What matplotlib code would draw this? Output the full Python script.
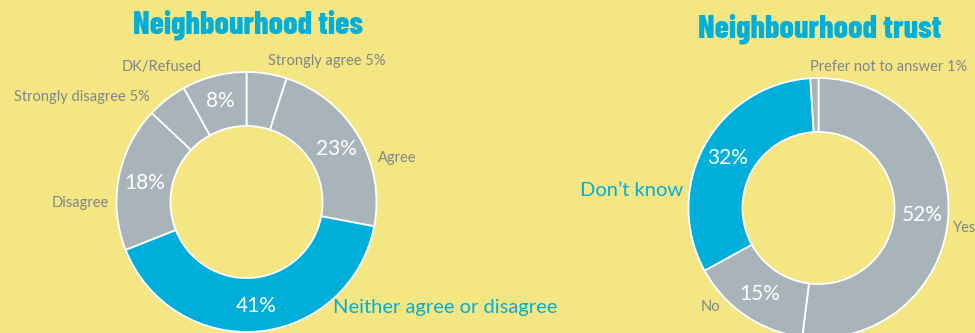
import matplotlib
matplotlib.use("Agg")
import matplotlib.pyplot as plt

# ---- data ----
ties_labels = ["Strongly agree", "Agree", "Neither agree or disagree", "Disagree",
               "Strongly disagree", "DK/Refused"]
ties_values = [5, 23, 41, 18, 5, 8]
trust_labels = ["Yes", "No", "Don\u2019t know", "Prefer not to answer"]
trust_values = [52, 15, 32, 1]

BG = "#F4E683"
GRAY = "#A9B3BA"
BLUE = "#00AFD9"
TXT = "#80858A"
FONT = ["Lato", "DejaVu Sans"]
TFONT = ["Barlow Condensed", "Roboto Condensed", "DejaVu Sans"]

ties_colors = [GRAY, GRAY, BLUE, GRAY, GRAY, GRAY]
trust_colors = [GRAY, GRAY, BLUE, GRAY]

fig = plt.figure(figsize=(9.75, 3.33), dpi=100, facecolor=BG)
ax = fig.add_axes([0, 0, 1, 1])
ax.set_facecolor(BG)

H = 333

def donut(values, colors, cx, cy, r):
    wedges, texts, autotexts = ax.pie(
        values, colors=colors, startangle=90, counterclock=False,
        center=(cx, H - cy), radius=r, frame=True,
        wedgeprops=dict(width=r * 0.415, edgecolor="white", linewidth=1.3),
        autopct=lambda p: f"{p:.0f}%" if p > 6 else "", pctdistance=0.8,
        textprops=dict(color="white", fontsize=15, family=FONT))
    return wedges

donut(ties_values, ties_colors, 246.5, 202, 130)
donut(trust_values, trust_colors, 818.5, 208, 130)
ax.set_xlim(0, 975)
ax.set_ylim(0, 333)
ax.set_aspect("equal")
ax.axis("off")

# titles
ax.text(248, H - 25, "Neighbourhood ties", ha="center", va="center", fontsize=23,
        fontweight=800, color=BLUE, family=TFONT)
ax.text(820, H - 29, "Neighbourhood trust", ha="center", va="center", fontsize=23,
        fontweight=800, color=BLUE, family=TFONT)

# outside labels
def lab(x, y, s, ha="left", color=TXT, size=10.5):
    ax.text(x, H - y, s, ha=ha, va="center", fontsize=size, color=color, family=FONT)

lab(268, 61, f"{ties_labels[0]} {ties_values[0]}%")
lab(378, 158, ties_labels[1])
lab(333, 308, ties_labels[2], color=BLUE, size=14.5)
lab(109, 203, ties_labels[3], ha="right")
lab(150, 97, f"{ties_labels[4]} {ties_values[4]}%", ha="right")
lab(202, 67, ties_labels[5], ha="right")

lab(953, 228, trust_labels[0])
lab(720, 307, trust_labels[1], ha="right")
lab(683, 190, trust_labels[2], ha="right", color=BLUE, size=14.5)
lab(810, 67, f"{trust_labels[3]} {trust_values[3]}%")

fig.savefig("out.png", dpi=100, facecolor=BG)
